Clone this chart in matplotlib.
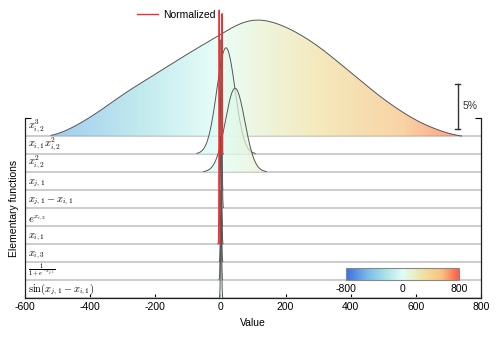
import numpy as np
import matplotlib
matplotlib.use("Agg")
import matplotlib.pyplot as plt
from matplotlib.colors import LinearSegmentedColormap
from matplotlib.patches import Polygon
from matplotlib.lines import Line2D

plt.rcParams['font.family'] = ['Liberation Sans', 'DejaVu Sans']
plt.rcParams['mathtext.fontset'] = 'cm'
plt.rcParams['axes.unicode_minus'] = False

# ---- data ----
labels = [r'$x_{i,2}^3$', r'$x_{i,1}x_{i,2}^2$', r'$x_{i,2}^2$', r'$x_{j,1}$',
          r'$x_{j,1}-x_{i,1}$', r'$e^{x_{i,2}}$', r'$x_{i,1}$', r'$x_{i,3}$',
          r'$\frac{1}{1+e^{-x_{j,1}}}$', r'$\sin(x_{j,1}-x_{i,1})$']
means = [105, 17, 45, 2, 4, 1, 3, 2, 1, 2]
sds = [210, 28, 30, 1.6, 1.6, 1.6, 1.6, 1.6, 1.6, 1.6]
peaks = [13.3, 11.8, 9.3, 16.7, 8, 10, 6, 8, 6, 9]        # percent
# top ridge (value, percent)
top_x = [-520, -460, -400, -350, -308, -250, -200, -100, 0, 50, 105, 160, 220,
         300, 400, 500, 600, 680, 740]
top_y = [0.0, 0.9, 2.2, 3.4, 4.6, 5.9, 7.0, 9.3, 11.4, 12.6, 13.3, 12.9, 12.0,
         10.2, 7.2, 4.2, 1.8, 0.6, 0.0]
norm_rows = [6, 1]
norm_means = [-4, 5]
norm_peaks = [26, 15.6]
xticks = [-600, -400, -200, 0, 200, 400, 600, 800]
cbar_ticks = [-800, 0, 800]

cmap = LinearSegmentedColormap.from_list('c', [(0, '#3a6fe0'), (0.2, '#7fbde8'),
                                               (0.35, '#a8e2e8'), (0.5, '#e0fdf6'),
                                               (0.68, '#f0e2a4'), (0.85, '#f6c27e'),
                                               (1, '#ff5a48')])

W, H = 498, 338
fig = plt.figure(figsize=(W / 100, H / 100), dpi=100)
ax = fig.add_axes([25 / W, 40 / H, 456 / W, 297 / H])
ax.set_xlim(-600, 800)
ax.set_ylim(0, 33)
n = len(labels)
spacing = 2.0
top = n * spacing  # 20

grad = np.linspace(-800, 800, 600).reshape(1, -1)
for k in range(n):
    base = (n - 1 - k) * spacing
    z = 2 * k + 1
    ax.axhline(base, color='#c8c8c8', lw=1.3, zorder=z - 0.5)
    if k == 0:
        x = np.linspace(top_x[0], top_x[-1], 800)
        yi = np.interp(x, top_x, top_y)
        ker = np.exp(-0.5 * (np.arange(-80, 81) / 22.0) ** 2)
        ker /= ker.sum()
        yp = np.pad(yi, 80, mode='edge')
        yi = np.convolve(yp, ker, mode='same')[80:-80]
        yi -= yi.min()
        yi = np.clip(yi, 0, None)
        pk = yi.max()
        y = base + yi
    else:
        mu, sd, pk = means[k], sds[k], peaks[k]
        x = np.linspace(mu - 3.2 * sd, mu + 3.2 * sd, 800)
        y = base + pk * np.exp(-0.5 * ((x - mu) / sd) ** 2)
    verts = np.column_stack([np.r_[x, x[::-1]], np.r_[y, np.full_like(x, base)]])
    poly = Polygon(verts, closed=True, facecolor='none', edgecolor='none')
    ax.add_patch(poly)
    im = ax.imshow(grad, extent=(-800, 800, base, base + pk + 0.1), cmap=cmap,
                   vmin=-800, vmax=800, aspect='auto', alpha=0.7, zorder=z)
    im.set_clip_path(poly)
    ax.plot(x, y, color='#555555', lw=0.7, zorder=z + 0.5)
    fs = 6.8 if k == 8 else 7.5
    ax.text(-591, base + 0.12, labels[k], fontsize=fs, ha='left', va='bottom', zorder=40)

for r, mu, pk in zip(norm_rows, norm_means, norm_peaks):
    base = (n - 1 - r) * spacing
    x = np.linspace(mu - 4, mu + 4, 200)
    y = base + pk * np.exp(-0.5 * ((x - mu) / 0.7) ** 2)
    ax.plot(x, y, color='#ee3030', lw=0.8, zorder=35)

ax.set_xlim(-600, 800)
ax.set_ylim(0, 33)
ax.spines['top'].set_visible(False)
ax.spines['left'].set_bounds(0, top)
ax.spines['right'].set_bounds(0, top)
for s in ax.spines.values():
    s.set_color('#222222')
    s.set_linewidth(0.9)
    s.set_zorder(50)
ax.set_xticks(xticks)
ax.set_xticklabels([str(t) for t in xticks], fontsize=7.5)
ax.tick_params(axis='x', direction='in', length=3, width=0.8, pad=3)
ax.set_yticks([top])
ax.set_yticklabels([])
ax.tick_params(axis='y', direction='in', length=4, width=0.8, left=True, right=True)
ax.set_xlabel('Value', fontsize=7.5, labelpad=4)
fig.text(14 / W, 1 - 208 / H, 'Elementary functions', rotation=90, fontsize=7.5,
         ha='center', va='center')

# scale bar
xs = 729
ax.plot([xs, xs], [18.8, 23.8], color='#333333', lw=1.0, zorder=30)
ax.plot([xs - 8, xs + 8], [18.8, 18.8], color='#333333', lw=1.0, zorder=30)
ax.plot([xs - 8, xs + 8], [23.8, 23.8], color='#333333', lw=1.0, zorder=30)
ax.text(742, 21.3, '5%', fontsize=7.5, va='center', ha='left', color='#333333')

# legend
fig.legend(handles=[Line2D([0], [0], color='#ee3030', lw=1.0)], labels=['Normalized'],
           loc='center left', bbox_to_anchor=(128 / W, 1 - 15 / H), frameon=False,
           fontsize=7.5, handlelength=2.0, handletextpad=0.5)

# colorbar
cax = fig.add_axes([346 / W, (H - 280) / H, 113 / W, 12 / H])
sm = matplotlib.cm.ScalarMappable(cmap=cmap, norm=matplotlib.colors.Normalize(-800, 800))
cb = fig.colorbar(sm, cax=cax, orientation='horizontal', ticks=cbar_ticks)
cb.ax.tick_params(labelsize=7.5, length=0, pad=3)
cb.outline.set_edgecolor('#888888')
cb.outline.set_linewidth(0.8)

fig.savefig('out.png', dpi=100)
